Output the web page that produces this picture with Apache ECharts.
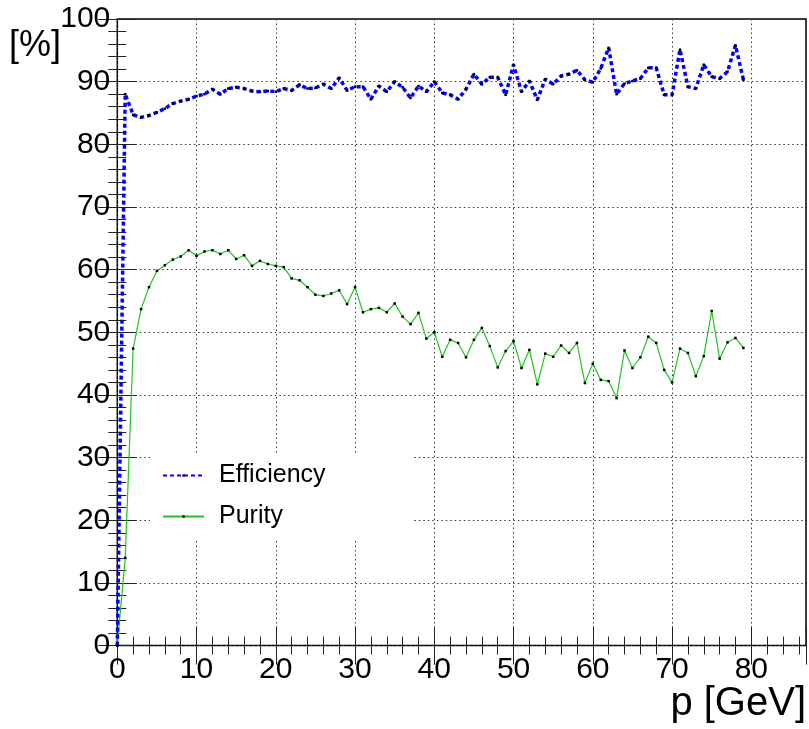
<!DOCTYPE html>
<html>
<head>
<meta charset="utf-8">
<script src="https://cdn.jsdelivr.net/npm/echarts@6/dist/echarts.min.js"></script>
<style>
  html, body { margin: 0; padding: 0; background: #fff; }
  #chart { width: 809px; height: 729px; }
</style>
</head>
<body>
<div id="chart"></div>
<script>
// Momentum bins [GeV]
const momentum = [
  0, 1, 2, 3, 4, 5, 6, 7, 8, 9,
  10, 11, 12, 13, 14, 15, 16, 17, 18, 19,
  20, 21, 22, 23, 24, 25, 26, 27, 28, 29,
  30, 31, 32, 33, 34, 35, 36, 37, 38, 39,
  40, 41, 42, 43, 44, 45, 46, 47, 48, 49,
  50, 51, 52, 53, 54, 55, 56, 57, 58, 59,
  60, 61, 62, 63, 64, 65, 66, 67, 68, 69,
  70, 71, 72, 73, 74, 75, 76, 77, 78, 79
];

// Efficiency [%] per momentum bin
const efficiency = [
  0.0, 88.0, 84.7, 84.3, 84.6, 85.1, 85.7, 86.5, 86.9, 87.2,
  87.7, 88.0, 88.8, 88.0, 88.9, 89.1, 88.9, 88.5, 88.4, 88.5,
  88.4, 88.9, 88.6, 89.5, 88.9, 89.0, 89.6, 88.9, 90.6, 88.6,
  89.2, 89.2, 87.2, 89.3, 88.4, 90.0, 89.1, 87.4, 89.3, 88.4,
  90.0, 88.2, 87.9, 87.2, 88.8, 91.2, 89.6, 90.7, 90.7, 87.9,
  92.7, 88.4, 90.1, 87.1, 90.4, 89.6, 90.9, 91.2, 91.8, 90.3,
  89.9, 92.1, 95.4, 88.0, 89.7, 90.1, 90.5, 92.2, 92.2, 87.9,
  87.9, 95.1, 89.2, 88.9, 92.7, 90.8, 90.5, 91.6, 95.8, 90.3
];

// Purity [%] per momentum bin
const purity = [
  0.0, 14.0, 47.4, 53.7, 57.2, 59.8, 60.7, 61.6, 62.1, 63.1,
  62.2, 62.9, 63.1, 62.5, 63.1, 61.7, 62.3, 60.6, 61.4, 60.9,
  60.6, 60.4, 58.6, 58.3, 57.2, 56.0, 55.8, 56.2, 56.7, 54.5,
  57.2, 53.2, 53.7, 53.9, 53.2, 54.6, 52.5, 51.3, 53.1, 49.0,
  50.0, 46.1, 48.8, 48.3, 46.0, 48.8, 50.7, 47.8, 44.4, 47.0,
  48.6, 44.3, 47.2, 41.7, 46.6, 46.1, 47.9, 46.7, 48.3, 41.9,
  45.0, 42.4, 42.2, 39.5, 47.1, 44.3, 46.0, 49.3, 48.3, 44.0,
  42.0, 47.4, 46.7, 43.0, 46.2, 53.4, 45.8, 48.4, 49.1, 47.5
];

const seriesNames = ['Efficiency', 'Purity'];
const xTitle = 'p [GeV]';
const yTitle = '[%]';

const FONT = '"Liberation Sans", Arial, Helvetica, sans-serif';
const X_MAX = 86.9;

const pairs = (ys) => momentum.map((x, i) => [x, ys[i]]);

// Axis helpers: major ticks with labels/grid, minor ticks, mirrored on opposite sides
function xAxisDef(position, interval, tickLen, withLabels, withGrid) {
  return {
    type: 'value', position, min: 0, max: X_MAX, interval,
    axisLine: { show: false },
    axisTick: { show: true, inside: true, length: tickLen, lineStyle: { color: '#222', width: 1 } },
    axisLabel: {
      show: withLabels, margin: 9, color: '#000', fontSize: 30, fontFamily: FONT,
      formatter: (v) => (v % 10 === 0 ? String(v) : '')
    },
    splitLine: { show: withGrid, lineStyle: { color: '#333', width: 1, type: [1.5, 3] } }
  };
}
function yAxisDef(position, interval, tickLen, withLabels, withGrid) {
  return {
    type: 'value', position, min: 0, max: 100, interval,
    axisLine: { show: false },
    axisTick: { show: true, inside: true, length: tickLen, lineStyle: { color: '#222', width: 1 } },
    axisLabel: { show: withLabels, margin: 7, color: '#000', fontSize: 30, fontFamily: FONT },
    splitLine: { show: withGrid, lineStyle: { color: '#333', width: 1, type: [1.5, 3] } }
  };
}

const chart = echarts.init(document.getElementById('chart'), null, { renderer: 'canvas' });

chart.setOption({
  animation: false,
  backgroundColor: '#fff',
  grid: {
    left: 117.3, right: 3, top: 19, bottom: 83.4,
    show: true, borderColor: '#000', borderWidth: 1.5, backgroundColor: 'transparent'
  },
  xAxis: [
    xAxisDef('bottom', 10, 19, true, true),
    xAxisDef('bottom', 2, 9, false, false),
    xAxisDef('top', 10, 19, false, false),
    xAxisDef('top', 2, 9, false, false)
  ],
  yAxis: [
    yAxisDef('left', 10, 19, true, true),
    yAxisDef('left', 2, 9, false, false),
    yAxisDef('right', 10, 19, false, false),
    yAxisDef('right', 2, 9, false, false)
  ],
  legend: {
    data: seriesNames,
    orient: 'vertical',
    left: 150, top: 453,
    padding: [10, 87, 11, 12],
    itemGap: 16,
    itemWidth: 41, itemHeight: 3,
    backgroundColor: '#fff',
    borderWidth: 0,
    textStyle: { fontSize: 25, color: '#000', fontFamily: FONT, padding: [0, 0, 0, 10], lineHeight: 24 }
  },
  series: [
    {
      name: seriesNames[0], type: 'line', xAxisIndex: 0, yAxisIndex: 0,
      data: pairs(efficiency),
      symbol: 'rect', symbolSize: 2.5, showSymbol: true,
      itemStyle: { color: '#000' },
      lineStyle: { color: '#0000ff', width: 3.5, type: [4, 3] },
      z: 3
    },
    {
      name: seriesNames[1], type: 'line', xAxisIndex: 0, yAxisIndex: 0,
      data: pairs(purity),
      symbol: 'rect', symbolSize: 2.5, showSymbol: true,
      itemStyle: { color: '#000' },
      lineStyle: { color: '#22c322', width: 1.2 },
      z: 2
    }
  ],
  graphic: [
    {
      type: 'text', right: 3, top: 684,
      style: { text: xTitle, font: '40px ' + FONT, fill: '#000' }
    },
    {
      type: 'text', left: 9, top: 28,
      style: { text: yTitle, font: '36px ' + FONT, fill: '#000' }
    }
  ]
});
</script>
</body>
</html>
